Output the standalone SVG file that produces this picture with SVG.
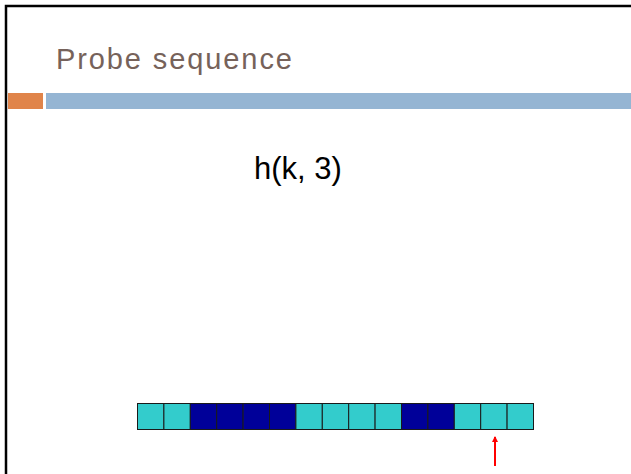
<svg xmlns="http://www.w3.org/2000/svg" width="631" height="474" viewBox="0 0 631 474">
<style>
.c{fill:#33CCCC;stroke:#1a1a1a;stroke-width:1}
.d{fill:#000099;stroke:#1a1a1a;stroke-width:1}
</style>
<defs>
<marker id="ah" viewBox="0 0 6 6" refX="5" refY="3" markerWidth="3" markerHeight="3" orient="auto">
<path d="M0,0 L6,3 L0,6 z" fill="#ff0000"/>
</marker>
</defs>
<rect width="631" height="474" fill="#ffffff"/>
<path d="M6,474 V6 H631" fill="none" stroke="#000" stroke-width="2.5"/>
<g id="title"><text x="56" y="69" font-family="'Liberation Sans', sans-serif" font-size="29" letter-spacing="1.9" fill="#76625a">Probe sequence</text></g>
<g id="bars">
<rect x="8" y="93" width="35" height="16" fill="#E0844A"/>
<rect x="46" y="93" width="585" height="16" fill="#95B5D3"/>
</g>
<g id="label"><text x="254" y="179" font-family="'Liberation Sans', Arial, sans-serif" font-size="31" fill="#000">h(k, 3)</text></g>
<g id="table">
<rect class="c" x="137.5" y="403.5" width="26.4" height="26"/>
<rect class="c" x="163.9" y="403.5" width="26.4" height="26"/>
<rect class="d" x="190.3" y="403.5" width="26.4" height="26"/>
<rect class="d" x="216.7" y="403.5" width="26.4" height="26"/>
<rect class="d" x="243.1" y="403.5" width="26.4" height="26"/>
<rect class="d" x="269.5" y="403.5" width="26.4" height="26"/>
<rect class="c" x="295.9" y="403.5" width="26.4" height="26"/>
<rect class="c" x="322.3" y="403.5" width="26.4" height="26"/>
<rect class="c" x="348.7" y="403.5" width="26.4" height="26"/>
<rect class="c" x="375.1" y="403.5" width="26.4" height="26"/>
<rect class="d" x="401.5" y="403.5" width="26.4" height="26"/>
<rect class="d" x="427.9" y="403.5" width="26.4" height="26"/>
<rect class="c" x="454.3" y="403.5" width="26.4" height="26"/>
<rect class="c" x="480.7" y="403.5" width="26.4" height="26"/>
<rect class="c" x="507.1" y="403.5" width="26.4" height="26"/>
</g>
<g id="connectors">
<line x1="495" y1="466" x2="495" y2="437" stroke="#ff0000" stroke-width="2" marker-end="url(#ah)"/>
</g>
</svg>
